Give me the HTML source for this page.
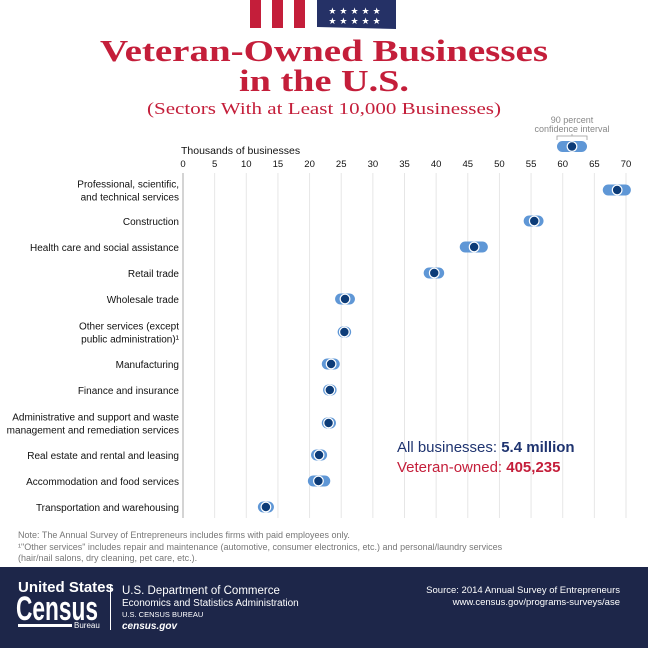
<!DOCTYPE html>
<html><head><meta charset="utf-8"><style>
body{margin:0;background:#fff}
svg{display:block}
text{font-family:"Liberation Sans",sans-serif}
.ttl{font-family:"Liberation Serif",serif;font-weight:bold}
</style></head><body>
<svg id="chart" width="648" height="648" viewBox="0 0 648 648" xmlns="http://www.w3.org/2000/svg">
<g>
  <rect x="250" y="0" width="67" height="28" fill="#fff"/>
  <rect x="250" y="0" width="11" height="28" fill="#c41e3a"/>
  <rect x="272" y="0" width="11" height="28" fill="#c41e3a"/>
  <rect x="294" y="0" width="11" height="28" fill="#c41e3a"/>
  <polygon points="317,0 396,0 396,29 317,27" fill="#253166"/>
  <text x="356" y="14" fill="#fff" font-size="9" text-anchor="middle" letter-spacing="3">★★★★★</text>
  <text x="356" y="24" fill="#fff" font-size="9" text-anchor="middle" letter-spacing="3">★★★★★</text>
</g>
<text class="ttl" x="324" y="61" text-anchor="middle" font-size="31" fill="#c41e3a" textLength="448" lengthAdjust="spacingAndGlyphs">Veteran-Owned Businesses</text>
<text class="ttl" x="324" y="91" text-anchor="middle" font-size="31" fill="#c41e3a" textLength="170" lengthAdjust="spacingAndGlyphs">in the U.S.</text>
<text x="324" y="114" text-anchor="middle" font-size="17" fill="#c41e3a" textLength="354" lengthAdjust="spacingAndGlyphs" style="font-family:'Liberation Serif',serif">(Sectors With at Least 10,000 Businesses)</text>

<g>
  <text x="572" y="123" text-anchor="middle" font-size="9" fill="#888">90 percent</text>
  <text x="572" y="132" text-anchor="middle" font-size="9" fill="#888">confidence interval</text>
  <path d="M557,140 V136 H587 V140 M572,136 V134" stroke="#999" fill="none" stroke-width="0.8"/>
  <rect x="557" y="141" width="30" height="11" rx="5.5" fill="#5f97d6"/>
  <circle cx="572" cy="146.5" r="4.8" fill="#0d3c78" stroke="#fff" stroke-width="1.2"/>
</g>

<text x="181" y="154" font-size="10.5" fill="#111">Thousands of businesses</text>
<g id="axis"></g>
<g id="rows"></g>
<g id="marks"></g>

<text x="397" y="452" font-size="15" fill="#1f3470">All businesses: <tspan font-weight="bold">5.4 million</tspan></text>
<text x="397" y="472" font-size="15" fill="#c41e3a">Veteran-owned: <tspan font-weight="bold">405,235</tspan></text>

<g font-size="9" fill="#777">
  <text x="18" y="538">Note: The Annual Survey of Entrepreneurs includes firms with paid employees only.</text>
  <text x="18" y="550">¹"Other services" includes repair and maintenance (automotive, consumer electronics, etc.) and personal/laundry services</text>
  <text x="18" y="561">(hair/nail salons, dry cleaning, pet care, etc.).</text>
</g>

<g>
  <rect x="0" y="567" width="648" height="81" fill="#1d2649"/>
  <text x="18" y="592" font-size="15" font-weight="bold" fill="#fff">United States</text>
  <text x="16" y="620" font-size="34" font-weight="bold" fill="#fff" textLength="82" lengthAdjust="spacingAndGlyphs">Census</text>
  <rect x="18" y="624" width="54" height="3" fill="#fff"/>
  <text x="74" y="628" font-size="8" fill="#fff">Bureau</text>
  <rect x="110" y="584" width="1" height="46" fill="#fff"/>
  <text x="122" y="594" font-size="11.5" fill="#fff">U.S. Department of Commerce</text>
  <text x="122" y="606" font-size="10" fill="#fff">Economics and Statistics Administration</text>
  <text x="122" y="617" font-size="7.5" fill="#fff">U.S. CENSUS BUREAU</text>
  <text x="122" y="629" font-size="10" font-weight="bold" font-style="italic" fill="#fff">census.gov</text>
  <text x="620" y="593" text-anchor="end" font-size="9.5" fill="#fff">Source: 2014 Annual Survey of Entrepreneurs</text>
  <text x="620" y="605" text-anchor="end" font-size="9.5" fill="#fff">www.census.gov/programs-surveys/ase</text>
</g>
</svg>
<script>
const categories=["Professional, scientific,|and technical services","Construction","Health care and social assistance","Retail trade","Wholesale trade","Other services (except|public administration)¹","Manufacturing","Finance and insurance","Administrative and support and waste|management and remediation services","Real estate and rental and leasing","Accommodation and food services","Transportation and warehousing"];
const estimates=[68.6,55.5,46.0,39.7,25.6,25.5,23.4,23.2,23.0,21.5,21.4,13.1];
const ciLow=[67.2,54.7,44.6,38.9,24.9,25.3,22.8,23.0,22.8,21.1,20.6,12.7];
const ciHigh=[69.9,56.1,47.3,40.4,26.3,25.7,23.9,23.4,23.3,21.9,22.4,13.5];
const ticks=[0,5,10,15,20,25,30,35,40,45,50,55,60,65,70];
const rowY=[190,221,247,273,299,332,364,390,423,455,481,507];
const NS="http://www.w3.org/2000/svg";
const x=v=>183+v*(443/70);
function mk(t,a,p){const e=document.createElementNS(NS,t);for(const k in a)e.setAttribute(k,a[k]);p.appendChild(e);return e;}
const ax=document.getElementById('axis'),rows=document.getElementById('rows'),marks=document.getElementById('marks');
ticks.forEach(t=>{
  const g=mk('line',{x1:x(t),x2:x(t),y1:173,y2:518,stroke:t==0?'#aaa':'#e6e6e6','stroke-width':1},ax);
  
  
  const l=mk('text',{x:x(t),y:167,'text-anchor':'middle','font-size':9.5,fill:'#111'},ax);
  l.textContent=t;
  
  
});
categories.forEach((c,i)=>{
  const y=rowY[i];const parts=c.split('|');
  parts.forEach((p,j)=>{
    const t=mk('text',{x:179,y:y+4+(j-(parts.length-1)/2)*13,'text-anchor':'end','font-size':10,fill:'#111'},rows);
    t.textContent=p;
    
    
  });
  const r=mk('rect',{x:x(ciLow[i])-5.5,y:y-5.5,width:x(ciHigh[i])-x(ciLow[i])+11,height:11,rx:5.5,fill:'#5f97d6'},marks);
  
  
  const d=mk('circle',{cx:x(estimates[i]),cy:y,r:4.8,fill:'#0d3c78',stroke:'#fff','stroke-width':1.2},marks);
  
  
});
</script>
</body></html>
